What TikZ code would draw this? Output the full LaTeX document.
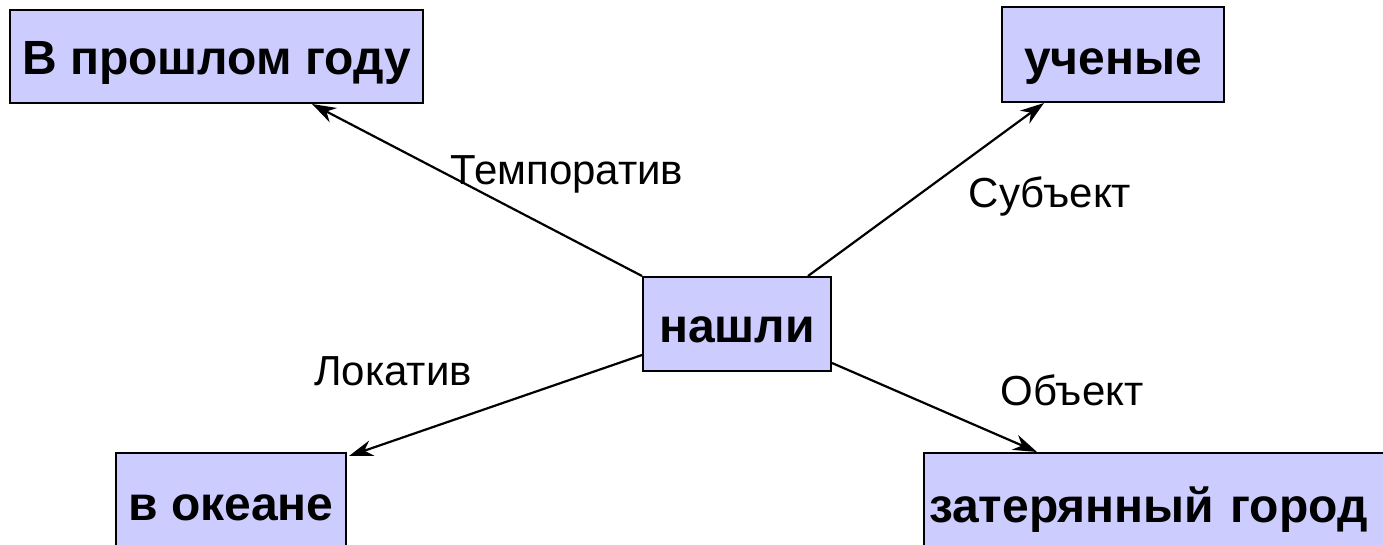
\documentclass[tikz,border=0pt]{standalone}
\usepackage{fontspec}
\setmainfont{Liberation Sans}
\usetikzlibrary{arrows.meta}
\definecolor{boxfill}{RGB}{204,204,255}
\tikzset{
  box/.style={draw=black, line width=2pt, fill=boxfill, inner sep=0pt, anchor=base,
    font=\fontsize{48}{52}\selectfont\bfseries},
  lbl/.style={anchor=base, inner sep=0pt, font=\fontsize{42}{46}\selectfont},
  arr/.style={line width=2.2pt, -{Stealth[length=24pt,width=16pt]}}
}
\begin{document}
\begin{tikzpicture}[x=1pt,y=-1pt]
\useasboundingbox (0,0) rectangle (1383,545);
\clip (0,0) rectangle (1383,545);
\fill[white] (0,0) rectangle (1383,545);
\node[box, minimum width=413pt, text height=65pt, text depth=28pt] (t) at (216.5,75) {В прошлом году};
\node[box, minimum width=222pt, text height=68pt, text depth=27pt] (u) at (1113,75) {ученые};
\node[box, minimum width=188pt, text height=65pt, text depth=29pt] (n) at (737,342) {нашли};
\node[box, minimum width=230pt, text height=67pt, text depth=45pt] (o) at (231,520) {в океане};
\node[box, anchor=base west, inner xsep=5pt, text width=480pt, align=left, text height=69pt, text depth=45pt] (z) at (923,522) {затерянный город};
\draw[arr] (n.north west) -- ([xshift=95.5pt]t.south);
\draw[arr] ([xshift=-24pt]n.north east) -- ([xshift=43pt]u.south west);
\draw[arr] ([yshift=-31pt]n.west) -- ([xshift=2pt,yshift=-4pt]o.north east);
\draw[arr] ([yshift=-39pt]n.east) -- ([xshift=114pt]z.north west);
\node[lbl] (lt) at (567,185) {Темпоратив};
\node[lbl] (ls) at (1050,208) {Субъект};
\node[lbl] (lo) at (1072,405) {Объект};
\node[lbl] (ll) at (393,385) {Локатив};
\end{tikzpicture}
\end{document}
